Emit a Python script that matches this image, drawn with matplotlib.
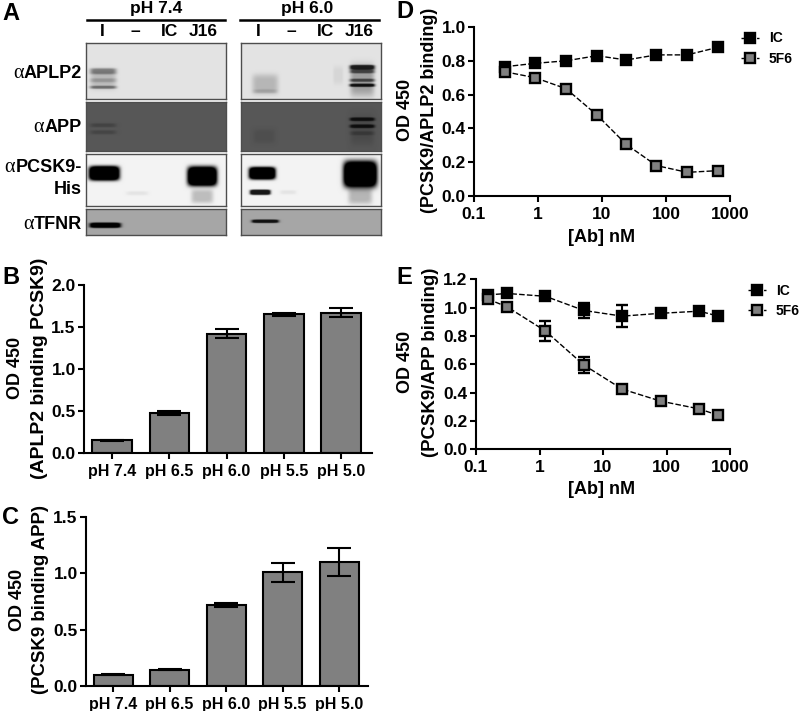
import numpy as np
import matplotlib
matplotlib.use("Agg")
import matplotlib.pyplot as plt
from matplotlib.lines import Line2D

plt.rcParams['font.family'] = ['Liberation Sans', 'DejaVu Sans']
plt.rcParams['font.weight'] = 'bold'
plt.rcParams['axes.linewidth'] = 1.5

W, H = 800, 711
GREY = '#808080'

ph_labels = ['pH 7.4', 'pH 6.5', 'pH 6.0', 'pH 5.5', 'pH 5.0']
b_vals = [0.15, 0.47, 1.42, 1.65, 1.67]
b_err = [0.005, 0.025, 0.05, 0.02, 0.05]
c_vals = [0.10, 0.145, 0.72, 1.01, 1.10]
c_err = [0.005, 0.005, 0.02, 0.085, 0.125]

d_dose = [0.305, 0.9, 2.74, 8.3, 24, 71, 214, 650]
d_ic = [0.765, 0.785, 0.80, 0.83, 0.805, 0.835, 0.835, 0.88]
d_5f6 = [0.735, 0.70, 0.635, 0.48, 0.305, 0.18, 0.14, 0.15]

e_dose = [0.155, 0.31, 1.24, 5, 20, 81, 329, 655]
e_ic = [1.09, 1.10, 1.08, 0.98, 0.94, 0.96, 0.975, 0.94]
e_ic_err = [0.02, 0.02, 0.02, 0.05, 0.08, 0.02, 0.02, 0.02]
e_5f6 = [1.06, 1.005, 0.835, 0.595, 0.425, 0.34, 0.285, 0.24]
e_5f6_err = [0.02, 0.02, 0.07, 0.055, 0.02, 0.02, 0.025, 0.01]

# blot bands: centre x, centre y, half width, half height, darkness (figure pixels)
aplp2_74 = [(103, 71, 13, 3, 0.4), (103, 80, 13, 2, 0.2), (103, 87, 13, 1.5, 0.45), (103, 79, 13, 10, 0.18)]
aplp2_60 = [(265, 84, 13, 10, 0.2), (265, 91, 12, 2, 0.15), (338, 75, 5, 9, 0.06),
            (362, 67, 12, 2.2, 0.85), (362, 71, 12, 2, 0.6), (362, 80, 12, 1.5, 0.6),
            (362, 85, 12, 1.5, 0.9), (362, 80, 12, 16, 0.3)]
app_74 = [(103, 125, 13, 2, 0.22), (103, 132, 13, 2, 0.2)]
app_60 = [(264, 136, 11, 7, 0.1), (362, 119, 12, 1.7, 0.8), (362, 126, 12, 1.7, 0.8),
          (362, 133, 12, 2, 0.25), (362, 130, 12, 15, 0.15)]
pcsk9_74 = [(104, 173, 15, 7, 1.0), (202, 176, 14.5, 9.5, 1.0), (202, 196, 11, 7, 0.22), (137, 193, 11, 2, 0.06)]
pcsk9_60 = [(262, 173, 13, 6, 1.0), (260, 192, 10, 2.5, 0.9), (360, 174, 16.5, 13, 1.0),
            (360, 195, 12, 9, 0.25), (288, 192, 8, 2, 0.06)]
tfnr_74 = [(105, 225, 15, 2.5, 1.0)]
tfnr_60 = [(265, 221, 13, 1.6, 0.9)]

blot_cols = [(86, 226), (241, 381)]
blot_rows = [
    (43, 99, 0.89, [aplp2_74, aplp2_60]),
    (102, 151, 0.34, [app_74, app_60]),
    (154, 206, 0.95, [pcsk9_74, pcsk9_60]),
    (209, 235, 0.65, [tfnr_74, tfnr_60]),
]


def add_axes_px(fig, left, top, right, bottom):
    return fig.add_axes([left / W, 1 - bottom / H, (right - left) / W, (bottom - top) / H])


def put_text(fig, x, y, s, **kw):
    kw.setdefault('ha', 'center')
    kw.setdefault('va', 'center')
    kw.setdefault('fontsize', 12.5)
    return fig.text(x / W, 1 - y / H, s, **kw)


def draw_blot(fig, left, top, right, bottom, bg, bands):
    ax = add_axes_px(fig, left, top, right, bottom)
    xs = np.arange(left, right, 0.5)
    ys = np.arange(top, bottom, 0.5)
    xx, yy = np.meshgrid(xs, ys)
    light = np.ones_like(xx)
    for cx, cy, hw, hh, dark in bands:
        d = np.exp(-((xx - cx) / hw) ** 6 - ((yy - cy) / hh) ** 4)
        # strong bands saturate, so their edges stay hard
        d = np.clip(d * (1 + dark ** 2), 0, 1)
        light *= 1 - dark * d
    ax.imshow(bg * light, cmap='gray', vmin=0, vmax=1, aspect='auto',
              extent=(left, right, bottom, top), interpolation='bilinear')
    ax.set_xticks([])
    ax.set_yticks([])
    for sp in ax.spines.values():
        sp.set_color('#4d4d4d')
        sp.set_linewidth(1.0)


def bar_panel(fig, box, xlim, vals, errs, ylim, ticks):
    ax = add_axes_px(fig, *box)
    x = np.arange(len(vals))
    ax.bar(x, vals, width=0.69, color=GREY, edgecolor='black', linewidth=1.5, zorder=2)
    ax.errorbar(x, vals, yerr=errs, fmt='none', ecolor='black', elinewidth=1.5,
                capsize=8.5, capthick=1.5, zorder=3)
    ax.set_xlim(*xlim)
    ax.set_ylim(*ylim)
    ax.set_yticks(ticks)
    ax.set_yticklabels([f'{t:.1f}' for t in ticks])
    ax.set_xticks(x)
    ax.set_xticklabels(ph_labels)
    ax.spines['top'].set_visible(False)
    ax.spines['right'].set_visible(False)
    ax.tick_params(axis='both', width=1.5, length=4, labelsize=11.5, pad=2)
    ax.tick_params(axis='x', pad=4)
    ax.tick_params(axis='y', labelsize=12.5)
    return ax


def dose_panel(fig, box, dose, ic, f6, ylim, ticks, ic_err=None, f6_err=None, legend_at=None):
    ax = add_axes_px(fig, *box)
    line = dict(color='black', ls=(0, (4, 1.6)), lw=1.0, marker='s', ms=7.5, mew=1.7, mec='black')
    style = dict(ecolor='black', elinewidth=1.5, capsize=4.5, capthick=1.5, clip_on=False, **line)
    ax.errorbar(dose, ic, yerr=ic_err, mfc='black', zorder=3, **style)
    ax.errorbar(dose, f6, yerr=f6_err, mfc=GREY, zorder=4, **style)
    ax.set_xscale('log')
    ax.set_xlim(0.1, 1000)
    ax.set_ylim(*ylim)
    ax.set_xticks([0.1, 1, 10, 100, 1000])
    ax.set_xticklabels(['0.1', '1', '10', '100', '1000'])
    ax.minorticks_off()
    ax.set_yticks(ticks)
    ax.set_yticklabels([f'{t:.1f}' for t in ticks])
    ax.spines['top'].set_visible(False)
    ax.spines['right'].set_visible(False)
    ax.tick_params(axis='both', width=1.5, length=4, labelsize=12.5, pad=2)
    ax.tick_params(axis='x', pad=4)
    handles = [Line2D([], [], mfc='black', **line), Line2D([], [], mfc=GREY, **line)]
    ax.legend(handles, ['IC', '5F6'], loc='center left', frameon=False, fontsize=10, numpoints=1,
              handlelength=1.3, handletextpad=0.7, labelspacing=0.45, borderpad=0, borderaxespad=0,
              bbox_to_anchor=(legend_at[0] / W, 1 - legend_at[1] / H),
              bbox_transform=fig.transFigure)
    return ax


fig = plt.figure(figsize=(W / 100, H / 100), dpi=100)

# panel A, the blots
for top, bottom, bg, pair in blot_rows:
    for (left, right), bands in zip(blot_cols, pair):
        draw_blot(fig, left, top, right, bottom, bg, bands)

put_text(fig, 156, 9, 'pH 7.4')
put_text(fig, 307, 9, 'pH 6.0')
fig.add_artist(Line2D([87 / W, 225 / W], [1 - 20 / H] * 2, color='black', lw=1.8))
fig.add_artist(Line2D([240 / W, 379 / W], [1 - 20 / H] * 2, color='black', lw=1.8))
for x0 in (102, 258):
    for off, s in zip((0, 33, 67, 101), ('I', '–', 'IC', 'J16')):
        put_text(fig, x0 + off, 32, s)

renderer = fig.canvas.get_renderer()
for y, s, greek in ((73, 'APLP2', True), (127, 'APP', True), (168, 'PCSK9-', True),
                    (190, 'His', False), (224, 'TFNR', True)):
    label = put_text(fig, 82, y, s, ha='right', fontsize=13)
    if greek:
        x_left = label.get_window_extent(renderer).x0
        put_text(fig, x_left - 0.5, y, 'α', ha='right', fontsize=14.5,
                 family=['Liberation Serif'], weight='normal')

# panels B and C
bar_panel(fig, (84, 285, 372, 452.7), (-0.49, 4.54), b_vals, b_err, (0, 2.0), [0, 0.5, 1.0, 1.5, 2.0])
bar_panel(fig, (86, 517, 368, 686), (-0.478, 4.513), c_vals, c_err, (0, 1.5), [0, 0.5, 1.0, 1.5])

# panels D and E
dose_panel(fig, (474, 27, 730, 196), d_dose, d_ic, d_5f6, (0, 1.0), [0, 0.2, 0.4, 0.6, 0.8, 1.0],
           legend_at=(741, 48.5))
dose_panel(fig, (476, 279.3, 730, 449.3), e_dose, e_ic, e_5f6, (0, 1.2), [0, 0.2, 0.4, 0.6, 0.8, 1.0, 1.2],
           ic_err=e_ic_err, f6_err=e_5f6_err, legend_at=(748, 301))

# axis titles
for x1, x2, y, size, s in ((16, 40, 368, 14, '(APLP2 binding PCSK9)'), (17, 41, 600, 13.4, '(PCSK9 binding APP)'),
                           (406, 430, 110, 13, '(PCSK9/APLP2 binding)'), (406, 431, 362, 13.4, '(PCSK9/APP binding)')):
    put_text(fig, x1, y, 'OD 450', rotation=90, fontsize=13)
    put_text(fig, x2, y, s, rotation=90, fontsize=size)
put_text(fig, 602, 238, '[Ab] nM', fontsize=13)
put_text(fig, 602, 490, '[Ab] nM', fontsize=13)

# panel letters
for x, y, s in ((2, 14, 'A'), (2, 277, 'B'), (2, 517, 'C'), (396, 12, 'D'), (396, 278, 'E')):
    put_text(fig, x, y, s, ha='left', fontsize=17)

fig.savefig('out.png', dpi=100)
